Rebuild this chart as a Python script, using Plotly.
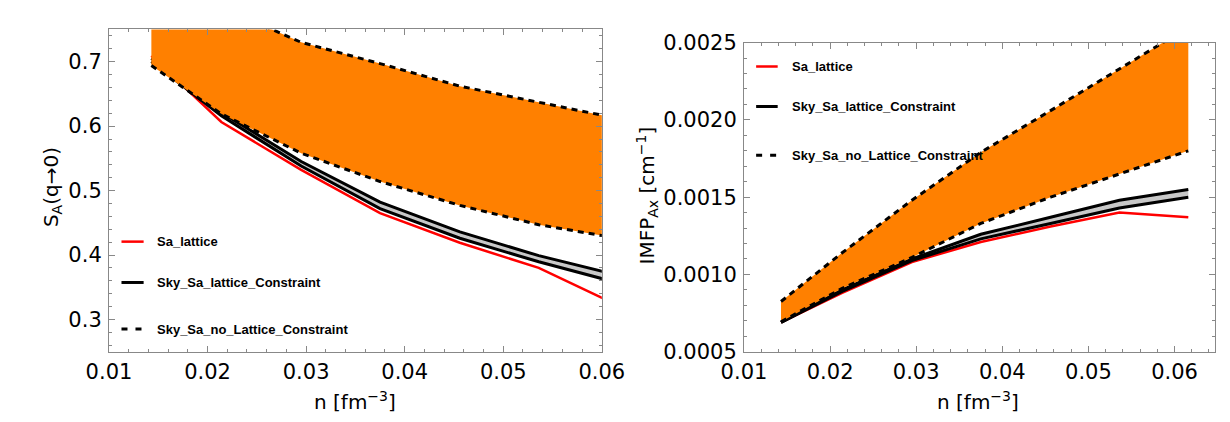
import plotly.graph_objects as go
from plotly.subplots import make_subplots

# density points n [fm^-3]
n = [0.0143, 0.0214, 0.0295, 0.0375, 0.0456, 0.0536, 0.0616]

# left panel: S_A(q->0)
sa_lattice = [0.709, 0.6064, 0.532, 0.465, 0.419, 0.380, 0.322]
sa_con_lo = [0.700, 0.616, 0.538, 0.472, 0.426, 0.3895, 0.357]
sa_con_hi = [0.705, 0.621, 0.545, 0.482, 0.436, 0.399, 0.369]
sa_nolat_lo = [0.694, 0.619, 0.558, 0.514, 0.477, 0.447, 0.426]
sa_nolat_hi = [0.860, 0.785, 0.730, 0.697, 0.662, 0.637, 0.612]

# right panel: IMFP_Ax [cm^-1]
im_lattice = [0.00069, 0.00088, 0.00108, 0.00121, 0.00131, 0.00140, 0.00137]
im_con_lo = [0.00069, 0.00089, 0.00109, 0.00123, 0.00133, 0.00143, 0.00150]
im_con_hi = [0.00069, 0.00090, 0.00110, 0.00126, 0.00137, 0.00148, 0.00155]
im_nolat_lo = [0.000694, 0.00091, 0.00111, 0.00133, 0.00150, 0.00165, 0.00180]
im_nolat_hi = [0.000825, 0.00114, 0.00148, 0.00179, 0.00206, 0.00233, 0.00260]

legend_names = ["Sa_lattice", "Sky_Sa_lattice_Constraint", "Sky_Sa_no_Lattice_Constraint"]

RED = "#ff0000"
ORANGE = "rgb(255,128,0)"
GRAY = "#c8c8c8"
AXC = "#888888"
TICKFONT = dict(family="DejaVu Sans", size=21, color="black")

W, H = 1230, 422

def px(x):
    return x / W

def py(y):
    return 1 - y / H

fig = make_subplots(rows=1, cols=2)

def add_panel(col, lat, clo, chi, nlo, nhi):
    fig.add_trace(go.Scatter(x=n, y=lat, mode="lines", line=dict(color=RED, width=2.5),
                             showlegend=False), row=1, col=col)
    fig.add_trace(go.Scatter(x=n, y=clo, mode="lines", line=dict(color="black", width=3),
                             showlegend=False), row=1, col=col)
    fig.add_trace(go.Scatter(x=n, y=chi, mode="lines", line=dict(color="black", width=3),
                             fill="tonexty", fillcolor=GRAY, showlegend=False), row=1, col=col)
    fig.add_trace(go.Scatter(x=n, y=nlo, mode="lines",
                             line=dict(color="black", width=3, dash="6px,5px"),
                             showlegend=False), row=1, col=col)
    fig.add_trace(go.Scatter(x=n, y=nhi, mode="lines",
                             line=dict(color="black", width=3, dash="6px,5px"),
                             fill="tonexty", fillcolor=ORANGE, showlegend=False), row=1, col=col)

add_panel(1, sa_lattice, sa_con_lo, sa_con_hi, sa_nolat_lo, sa_nolat_hi)
add_panel(2, im_lattice, im_con_lo, im_con_hi, im_nolat_lo, im_nolat_hi)

common = dict(showline=True, linecolor=AXC, linewidth=1, mirror="allticks",
              ticks="inside", ticklen=6, tickcolor=AXC, tickfont=TICKFONT,
              showgrid=False, zeroline=False)

fig.update_xaxes(common)
fig.update_yaxes(common)

fig.update_layout(
    xaxis=dict(domain=[px(81), px(593)], range=[0.01, 0.06], dtick=0.01, tick0=0,
               tickformat=".2f", ticklabelstandoff=1,
               minor=dict(ticks="inside", ticklen=3, dtick=0.002, tickcolor=AXC)),
    yaxis=dict(domain=[py(351.7), py(10)], range=[0.25, 0.75], dtick=0.1, tick0=0,
               tickformat=".1f", ticklabelstandoff=2,
               minor=dict(ticks="inside", ticklen=3, dtick=0.02, tickcolor=AXC)),
    xaxis2=dict(domain=[px(740.7), 1.0], range=[0.01, 0.0647], dtick=0.01, tick0=0,
                tickformat=".2f", ticklabelstandoff=1,
                minor=dict(ticks="inside", ticklen=3, dtick=0.002, tickcolor=AXC)),
    yaxis2=dict(domain=[py(351.7), py(24)], range=[0.0005, 0.0025], dtick=0.0005, tick0=0,
                tickformat=".4f", ticklabelstandoff=2,
                minor=dict(ticks="inside", ticklen=3, dtick=0.0001, tickcolor=AXC)),
)

# legends (manual, matching reference layout)
styles = [dict(color=RED, width=2.5), dict(color="black", width=3),
          dict(color="black", width=3, dash="6px,8px")]
legend_pos = [
    (94, 117, 129, [235, 278.3, 327.7]),
    (753.3, 775.7, 788.3, [49.3, 91.7, 143.3]),
]
shapes = []
annotations = []
for x0, x1, xt, ys in legend_pos:
    for name, st, yy in zip(legend_names, styles, ys):
        shapes.append(dict(type="line", xref="paper", yref="paper",
                           x0=px(x0), x1=px(x1), y0=py(yy), y1=py(yy), line=st))
        annotations.append(dict(xref="paper", yref="paper", x=px(xt), y=py(yy),
                                xanchor="left", yanchor="middle", showarrow=False,
                                text="<b>" + name + "</b>",
                                font=dict(family="Liberation Sans", size=13, color="black")))

TITLEFONT = dict(family="DejaVu Sans", size=20, color="black")
annotations += [
    dict(xref="paper", yref="paper", x=px(337), y=py(404), text="n [fm<sup>−3</sup>]",
         showarrow=False, xanchor="center", yanchor="middle", font=TITLEFONT),
    dict(xref="paper", yref="paper", x=px(984), y=py(404), text="n [fm<sup>−3</sup>]",
         showarrow=False, xanchor="center", yanchor="middle", font=TITLEFONT),
    dict(xref="paper", yref="paper", x=px(22), y=py(177), text="S<sub>A</sub>(q→0)",
         showarrow=False, xanchor="center", yanchor="middle", textangle=-90, font=TITLEFONT),
    dict(xref="paper", yref="paper", x=px(640), y=py(186), text="IMFP<sub>Ax</sub> [cm<sup>−1</sup>]",
         showarrow=False, xanchor="center", yanchor="middle", textangle=-90, font=TITLEFONT),
]

fig.update_layout(width=W, height=H, autosize=False,
                  margin=dict(l=0, r=0, t=0, b=0),
                  paper_bgcolor="white", plot_bgcolor="white",
                  shapes=shapes, annotations=annotations, showlegend=False)

fig.write_html("out.html")
